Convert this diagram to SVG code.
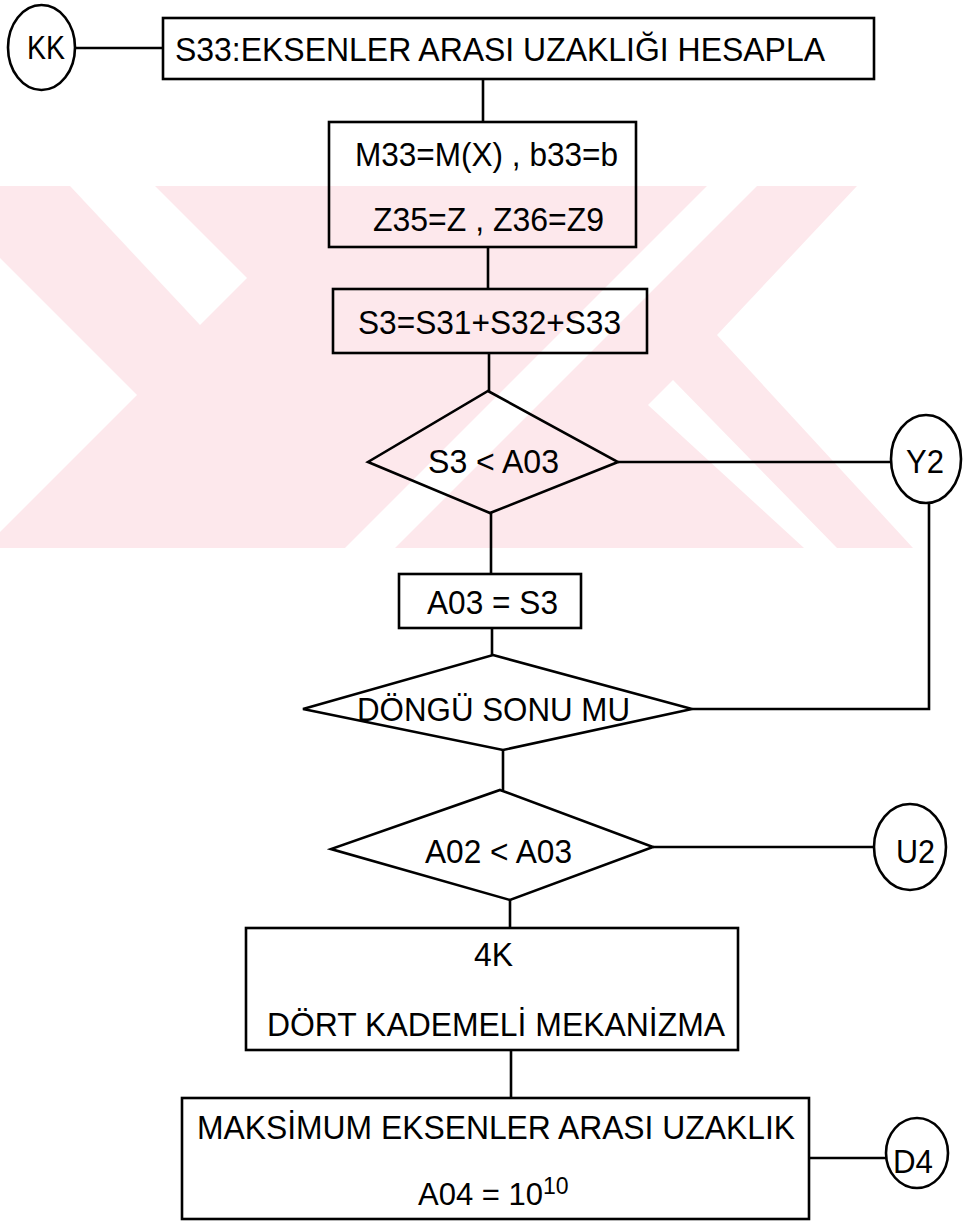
<svg xmlns="http://www.w3.org/2000/svg" width="963" height="1221" viewBox="0 0 963 1221">
<style>
.s{fill:none;stroke:#000;stroke-width:2.6}
.n{fill:none;stroke:#000;stroke-width:2.6}
.t{font-family:"Liberation Sans",Arial,sans-serif;font-size:33px;fill:#000}
.wm{fill:#fde8ec}
.wh{fill:#fff}
</style>
<rect x="0" y="0" width="963" height="1221" fill="#fff"/>
<g id="watermark">
<rect class="wm" x="0" y="186" width="963" height="362"/>
<polygon class="wh" points="0,258 137,395 0,532"/>
<polygon class="wh" points="70,186 155,186 247,278 200,325"/>
<polygon class="wh" points="857,186 963,186 963,548 913,548 717,335"/>
<polygon class="wh" points="648,405 673,380 837,548 804,548"/>
<polygon class="wh" points="707,186 757,186 395,548 345,548"/>
</g>
<g id="connectors">
<line class="s" x1="75" y1="48" x2="163" y2="48"/>
<line class="s" x1="483" y1="79" x2="483" y2="122"/>
<line class="s" x1="488" y1="247" x2="488" y2="289"/>
<line class="s" x1="489" y1="353" x2="489" y2="391"/>
<line class="s" x1="618" y1="462" x2="891" y2="462"/>
<line class="s" x1="491" y1="513" x2="491" y2="574"/>
<line class="s" x1="492" y1="628" x2="492" y2="655"/>
<polyline class="s" points="929,503 929,709 692,709"/>
<line class="s" x1="503" y1="750" x2="503" y2="790"/>
<line class="s" x1="653" y1="847" x2="874" y2="847"/>
<line class="s" x1="510" y1="900" x2="510" y2="928"/>
<line class="s" x1="511" y1="1050" x2="511" y2="1098"/>
<line class="s" x1="809" y1="1158" x2="886" y2="1158"/>
</g>
<g id="node-kk">
<ellipse class="n" cx="41.5" cy="47.5" rx="33.5" ry="42.5"/>
<text class="t" x="27" y="59" textLength="38" lengthAdjust="spacingAndGlyphs">KK</text>
</g>
<g id="node-s33">
<rect class="n" x="163" y="18" width="711" height="61"/>
<text class="t" x="175" y="61" textLength="650" lengthAdjust="spacingAndGlyphs">S33:EKSENLER ARASI UZAKLIĞI HESAPLA</text>
</g>
<g id="node-m33">
<rect class="n" x="329" y="122" width="307" height="125"/>
<text class="t" x="355" y="166" textLength="263" lengthAdjust="spacingAndGlyphs">M33=M(X) , b33=b</text>
<text class="t" x="373" y="231" textLength="231" lengthAdjust="spacingAndGlyphs">Z35=Z , Z36=Z9</text>
</g>
<g id="node-s3">
<rect class="n" x="333" y="289" width="314" height="64"/>
<text class="t" x="358" y="334" textLength="263" lengthAdjust="spacingAndGlyphs">S3=S31+S32+S33</text>
</g>
<g id="node-d1">
<polygon class="n" points="488,391 618,462 490,513 368,462"/>
<text class="t" x="428" y="473" textLength="131" lengthAdjust="spacingAndGlyphs">S3 &lt; A03</text>
</g>
<g id="node-y2">
<ellipse class="n" cx="926" cy="459" rx="35" ry="44"/>
<text class="t" x="906" y="473" textLength="38" lengthAdjust="spacingAndGlyphs">Y2</text>
</g>
<g id="node-a03">
<rect class="n" x="399" y="574" width="182" height="54"/>
<text class="t" x="427" y="614" textLength="131" lengthAdjust="spacingAndGlyphs">A03 = S3</text>
</g>
<g id="node-dongu">
<polygon class="n" points="493,655 692,709 503,750 303,709"/>
<text class="t" x="357" y="721" textLength="273" lengthAdjust="spacingAndGlyphs">DÖNGÜ SONU MU</text>
</g>
<g id="node-d2">
<polygon class="n" points="500,790 653,847 510,900 331,849"/>
<text class="t" x="425" y="863" textLength="147" lengthAdjust="spacingAndGlyphs">A02 &lt; A03</text>
</g>
<g id="node-u2">
<ellipse class="n" cx="910" cy="847" rx="36" ry="43"/>
<text class="t" x="896" y="863" textLength="39" lengthAdjust="spacingAndGlyphs">U2</text>
</g>
<g id="node-4k">
<rect class="n" x="246" y="928" width="492" height="122"/>
<text class="t" x="474" y="966" textLength="39" lengthAdjust="spacingAndGlyphs">4K</text>
<text class="t" x="267" y="1036" textLength="458" lengthAdjust="spacingAndGlyphs">DÖRT KADEMELİ MEKANİZMA</text>
</g>
<g id="node-maks">
<rect class="n" x="182" y="1098" width="627" height="121"/>
<text class="t" x="197" y="1139" textLength="598" lengthAdjust="spacingAndGlyphs">MAKSİMUM EKSENLER ARASI UZAKLIK</text>
<text class="t" x="418" y="1205" style="font-size:31px">A04 = 10<tspan dy="-11" style="font-size:23px">10</tspan></text>
</g>
<g id="node-d4">
<ellipse class="n" cx="917" cy="1153" rx="31" ry="35"/>
<text class="t" x="893" y="1173" textLength="40" lengthAdjust="spacingAndGlyphs">D4</text>
</g>
</svg>
